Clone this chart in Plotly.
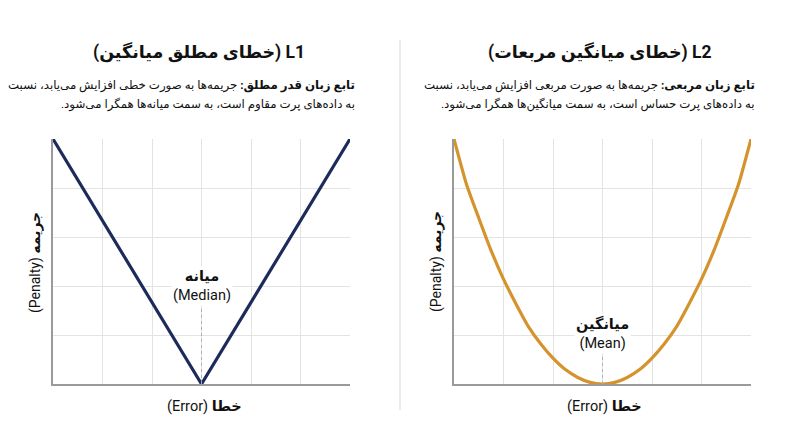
import plotly.graph_objects as go

# ---- data ----
l1_x = [-3, 0, 3]
l1_y = [3, 0, 3]
l2_x = [-3, -2.75, -2.5, -2.25, -2, -1.75, -1.5, -1.25, -1, -0.75, -0.5, -0.25, 0,
        0.25, 0.5, 0.75, 1, 1.25, 1.5, 1.75, 2, 2.25, 2.5, 2.75, 3]
l2_y = [9, 7.35, 6.1, 4.9, 3.85, 2.95, 2.12, 1.48, 0.95, 0.53, 0.24, 0.06, 0,
        0.06, 0.24, 0.53, 0.95, 1.48, 2.12, 2.95, 3.85, 4.9, 6.1, 7.35, 9]

titles = ["(خطای مطلق میانگین) L1", "(خطای میانگین مربعات) L2"]
sub_bold = ["تابع زبان قدر مطلق:", "تابع زبان مربعی:"]
sub_line1 = ["جریمه‌ها به صورت خطی افزایش می‌یابد، نسبت",
             "جریمه‌ها به صورت مربعی افزایش می‌یابد، نسبت"]
sub_line2 = ["به داده‌های پرت مقاوم است، به سمت میانه‌ها همگرا می‌شود.\u200f",
             "به داده‌های پرت حساس است، به سمت میانگین‌ها همگرا می‌شود.\u200f"]
center_fa = ["میانه", "میانگین"]
center_en = ["(Median)", "(Mean)"]
x_title_en, x_title_fa = "(Error)", "خطا"
y_title_en, y_title_fa = "(Penalty)", "جریمه"

FONT = "Roboto, 'DejaVu Sans', sans-serif"
NAVY = "#1c2b5a"
GOLD = "#d4932c"

# page has an 8px body margin: work in reference pixel coordinates
W, H = 792, 439
def px(x):
    return (x - 8) / W
def py(y):
    return (H - (y - 8)) / H

fig = go.Figure()
fig.add_trace(go.Scatter(x=l1_x, y=l1_y, mode="lines",
                         line=dict(color=NAVY, width=3.2), xaxis="x", yaxis="y",
                         hoverinfo="skip"))
fig.add_trace(go.Scatter(x=l2_x, y=l2_y, mode="lines",
                         line=dict(color=GOLD, width=3.2, shape="spline", smoothing=0.6),
                         xaxis="x2", yaxis="y2", hoverinfo="skip"))

ydom = [py(384), py(139)]
axis_common = dict(showgrid=True, gridcolor="#e3e3e3", gridwidth=1,
                   showline=True, linecolor="#9a9a9a", linewidth=1.5,
                   showticklabels=False, ticks="", zeroline=False, fixedrange=True)

fig.update_layout(
    width=W, height=H,
    margin=dict(l=0, r=0, t=0, b=0),
    paper_bgcolor="white", plot_bgcolor="white",
    showlegend=False,
    font=dict(family=FONT, color="#111"),
    xaxis=dict(domain=[px(53), px(350)], range=[-3, 3], dtick=1, anchor="y",
               **axis_common),
    yaxis=dict(domain=ydom, range=[0, 3], dtick=0.6, anchor="x", **axis_common),
    xaxis2=dict(domain=[px(454), px(751)], range=[-3, 3], dtick=1, anchor="y2",
                **axis_common),
    yaxis2=dict(domain=ydom, range=[0, 9], dtick=1.8, anchor="x2", **axis_common),
)

# divider
fig.add_shape(type="line", xref="paper", yref="paper",
              x0=px(400), x1=px(400), y0=py(410), y1=py(40),
              line=dict(color="#e6e6e6", width=1.5))

# dotted center lines
fig.add_shape(type="line", xref="x", yref="y", x0=0, x1=0, y0=0, y1=0.95,
              line=dict(color="#b0b0b0", width=1, dash="dot"))
fig.add_shape(type="line", xref="x2", yref="y2", x0=0, x1=0, y0=0, y1=1.0,
              line=dict(color="#b0b0b0", width=1, dash="dot"))

centers = [px(199), px(600)]
rights = [px(357), px(757)]
ann = []
for i in range(2):
    ann.append(dict(xref="paper", yref="paper", x=centers[i], y=py(52),
                    text="<b>" + titles[i] + "</b>", showarrow=False,
                    font=dict(size=17.5, family=FONT, color="#111"),
                    xanchor="center", yanchor="middle"))
    ann.append(dict(xref="paper", yref="paper", x=rights[i], y=py(85),
                    text="<b>" + sub_bold[i] + "</b> " + sub_line1[i], showarrow=False,
                    font=dict(size=11.8, family=FONT, color="#111"),
                    xanchor="right", yanchor="middle", align="right"))
    ann.append(dict(xref="paper", yref="paper", x=rights[i], y=py(104),
                    text=sub_line2[i], showarrow=False,
                    font=dict(size=11.8, family=FONT, color="#111"),
                    xanchor="right", yanchor="middle", align="right"))
    xr = "x" if i == 0 else "x2"
    yr = "y" if i == 0 else "y2"
    ann.append(dict(xref=xr, yref=yr, x=0, y=[1.2, 1.87][i],
                    text="<b>" + center_fa[i] + "</b><br>" + center_en[i],
                    showarrow=False,
                    font=dict(size=14.5, family=FONT, color="#111"),
                    bgcolor="white", xanchor="center", yanchor="middle"))
    # x title
    ann.append(dict(xref="paper", yref="paper", x=[px(204), px(604)][i],
                    y=py(406), text=x_title_en + " <b>" + x_title_fa + "</b>",
                    showarrow=False,
                    font=dict(size=14.5, family=FONT, color="#111"),
                    xanchor="center", yanchor="middle"))
    # y title
    ann.append(dict(xref="paper", yref="paper", x=[px(35), px(436)][i],
                    y=py(262), text=y_title_en + " <b>" + y_title_fa + "</b>",
                    showarrow=False, textangle=-90,
                    font=dict(size=14, family=FONT, color="#111"),
                    xanchor="center", yanchor="middle"))
fig.update_layout(annotations=ann)

fig.write_html("out.html")
